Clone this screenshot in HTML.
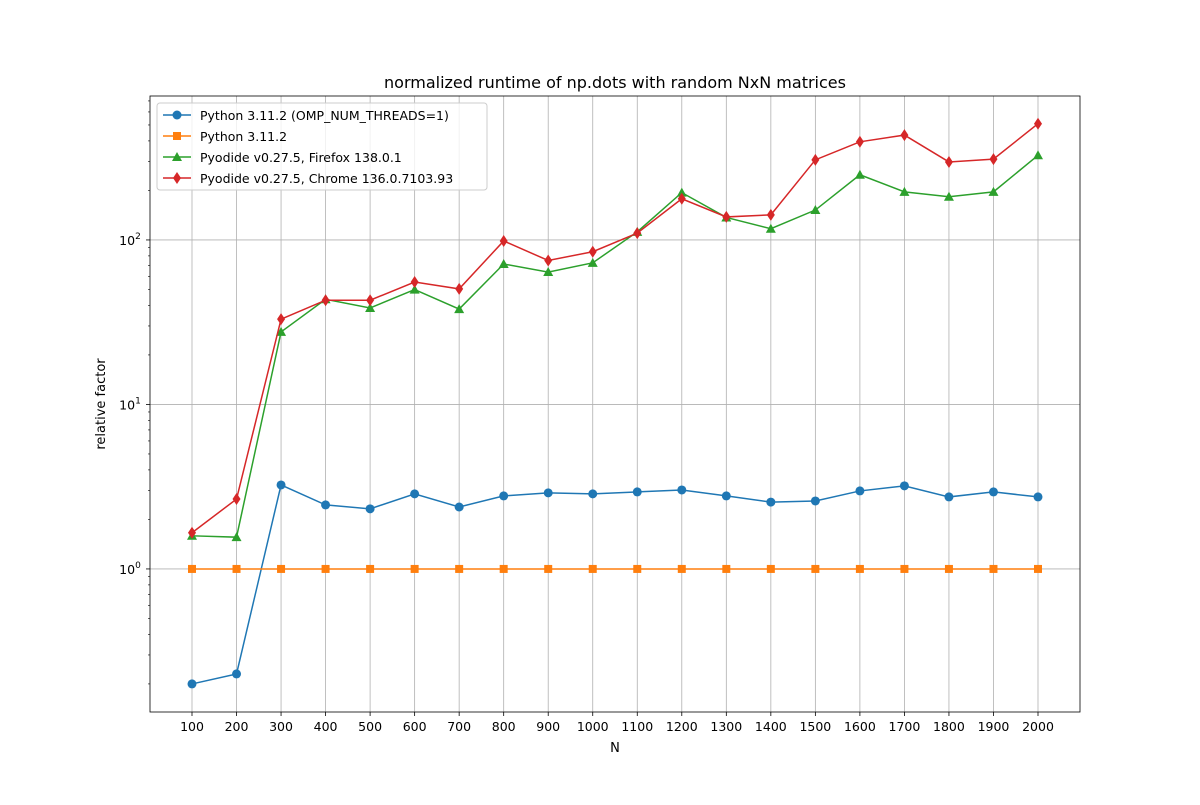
<!DOCTYPE html>
<html><head><meta charset="utf-8"><style>
body{margin:0;background:#fff;font-family:"Liberation Sans","DejaVu Sans",sans-serif}
svg text{font-family:"DejaVu Sans","Liberation Sans",sans-serif}
</style></head><body>
<svg id="c" width="1200" height="800" xmlns="http://www.w3.org/2000/svg"></svg>
<script>
const categories=[100,200,300,400,500,600,700,800,900,1000,1100,1200,1300,1400,1500,1600,1700,1800,1900,2000];
const seriesNames=["Python 3.11.2 (OMP_NUM_THREADS=1)","Python 3.11.2","Pyodide v0.27.5, Firefox 138.0.1","Pyodide v0.27.5, Chrome 136.0.7103.93"];
const blueVals=[0.2,0.23,3.24,2.45,2.32,2.86,2.38,2.78,2.9,2.86,2.94,3.02,2.78,2.55,2.59,2.98,3.2,2.74,2.94,2.74];
const orangeVals=[1,1,1,1,1,1,1,1,1,1,1,1,1,1,1,1,1,1,1,1];
const greenVals=[1.59,1.56,27.6,43.6,38.6,49.9,38,71.4,63.8,72.6,112,194,137,117,152,249,196,183,196,327];
const redVals=[1.66,2.66,33,43,43,55.5,50.4,98.6,75,84.8,110,178,138,142,307,395,434,298,310,509];
const yTicks=[1,10,100];
const yTickLabels=["10","10","10"];
const yTickExps=["0","1","2"];
const L=150,R=1080,T=96,B=712;
const yMin=Math.log10(0.135),yMax=Math.log10(750);
const xs=v=>192+(v-100)*(1038-192)/1900;
const ys=v=>B-(Math.log10(v)-yMin)/(yMax-yMin)*(B-T);
const svg=document.getElementById('c');const NS="http://www.w3.org/2000/svg";
function el(t,a,p){const e=document.createElementNS(NS,t);for(const k in a)e.setAttribute(k,a[k]);(p||svg).appendChild(e);return e;}
let e;
e=el('text',{x:615,y:88,'font-size':16,'text-anchor':'middle'});e.textContent="normalized runtime of np.dots with random NxN matrices";


// grid + x ticks
categories.forEach(c=>{const x=xs(c);
el('line',{x1:x,x2:x,y1:T,y2:B,stroke:'#b0b0b0','stroke-width':0.8});
el('line',{x1:x,x2:x,y1:B,y2:B+4,stroke:'#000','stroke-width':0.8});
e=el('text',{x:x,y:B+19,'font-size':12.5,'text-anchor':'middle'});e.textContent=c;

});
yTicks.forEach((v,i)=>{const y=ys(v);
el('line',{x1:L,x2:R,y1:y,y2:y,stroke:'#b0b0b0','stroke-width':0.8});
el('line',{x1:L-4,x2:L,y1:y,y2:y,stroke:'#000','stroke-width':0.8});
e=el('text',{x:L-20,y:y+5,'font-size':12.5,'text-anchor':'middle'});e.textContent=yTickLabels[i];


const s=el('tspan',{dy:-6,'font-size':9},e);s.textContent=yTickExps[i];});
for(let d=-1;d<=2;d++)for(let m=2;m<=9;m++){const v=m*Math.pow(10,d);if(v<0.135||v>750)continue;const y=ys(v);
el('line',{x1:L-2,x2:L,y1:y,y2:y,stroke:'#000','stroke-width':0.6});}
el('rect',{x:L,y:T,width:R-L,height:B-T,fill:'none',stroke:'#000','stroke-width':0.8});
e=el('text',{x:615,y:752,'font-size':13,'text-anchor':'middle'});e.textContent="N";


e=el('text',{x:105,y:404,'font-size':13,'text-anchor':'middle',transform:'rotate(-90 105 404)'});e.textContent="relative factor";


const colors=['#1f77b4','#ff7f0e','#2ca02c','#d62728'];const data=[blueVals,orangeVals,greenVals,redVals];const markers=['o','s','^','d'];
function marker(g,m,x,y,c){
if(m==='o')return el('circle',{cx:x,cy:y,r:4.5,fill:c},g);
if(m==='s')return el('rect',{x:x-4,y:y-4,width:8,height:8,fill:c},g);
if(m==='^')return el('polygon',{points:`${x},${y-5} ${x-5},${y+4} ${x+5},${y+4}`,fill:c},g);
return el('polygon',{points:`${x},${y-6} ${x-4},${y} ${x},${y+6} ${x+4},${y}`,fill:c},g);}
data.forEach((vals,i)=>{const g=el('g',{});


el('polyline',{points:vals.map((v,j)=>xs(categories[j])+','+ys(v)).join(' '),fill:'none',stroke:colors[i],'stroke-width':1.5},g);
vals.forEach((v,j)=>{const p=marker(g,markers[i],xs(categories[j]),ys(v),colors[i]);

});});
// legend
const lg=el('g',{});


el('rect',{x:157,y:103,width:330,height:87,rx:3,fill:'#fff','fill-opacity':0.8,stroke:'#ccc'},lg);
seriesNames.forEach((n,i)=>{const y=115+i*21;
el('line',{x1:163,x2:191,y1:y,y2:y,stroke:colors[i],'stroke-width':1.5},lg);
marker(lg,markers[i],177,y,colors[i]);
const t=el('text',{x:200,y:y+5,'font-size':12.5},lg);t.textContent=n;

});
</script>
</body></html>
